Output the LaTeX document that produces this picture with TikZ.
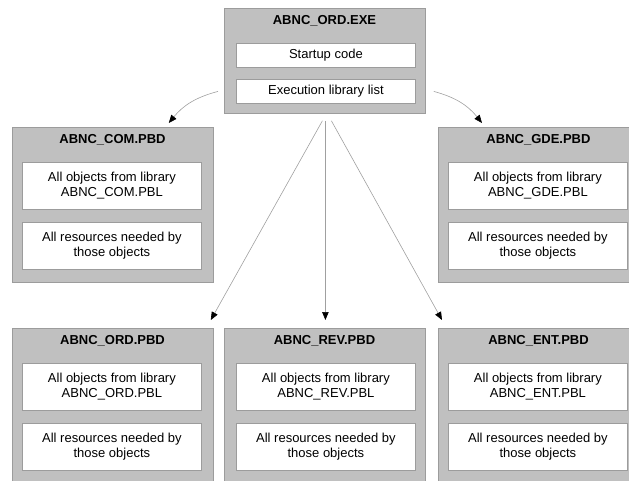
\documentclass[tikz,border=0pt]{standalone}
\usepackage{fontspec}
\setmainfont{Liberation Sans}
\usetikzlibrary{arrows.meta}
\definecolor{boxgray}{HTML}{C0C0C0}
\definecolor{edgegray}{HTML}{9C9C9C}
\definecolor{linegray}{HTML}{A0A0A0}
\begin{document}
\begin{tikzpicture}[x=1pt,y=1pt,
  outer/.style={draw=edgegray,fill=boxgray,line width=0.8pt,minimum width=201pt,inner sep=0pt,anchor=north west},
  inner/.style={draw=edgegray,fill=white,line width=0.8pt,minimum width=179pt,inner sep=0pt,align=center,font=\fontsize{13}{15}\selectfont,anchor=north west},
  title/.style={font=\fontsize{13}{15}\selectfont\bfseries,inner sep=0pt},
  arr/.style={draw=linegray,line width=0.6pt,-{Triangle[color=black,length=8pt,width=6.5pt]}}]
\useasboundingbox (0,0) rectangle (629,-480);
\clip (0,0) rectangle (629,-480);
% top box
\node[outer,minimum height=105pt] (top) at (224,-8) {};
\node[title] (toptitle) at (324.5,-21) {ABNC\_ORD.EXE};
\node[inner,minimum height=24pt] (start) at (236,-43) {Startup code};
\node[inner,minimum height=24pt] (exe) at (236,-79) {Execution library list};
% middle row
\node[outer,minimum height=155pt] (com) at (12,-127) {};
\node[title] (comtitle) at (112.5,-140) {ABNC\_COM.PBD};
\node[inner,minimum height=47pt] (com1) at (22,-162) {All objects from library\\ABNC\_COM.PBL};
\node[inner,minimum height=47pt] (com2) at (22,-222) {All resources needed by\\those objects};
\node[outer,minimum height=155pt] (gde) at (438,-127) {};
\node[title] (gdetitle) at (538.5,-140) {ABNC\_GDE.PBD};
\node[inner,minimum height=47pt] (gde1) at (448,-162) {All objects from library\\ABNC\_GDE.PBL};
\node[inner,minimum height=47pt] (gde2) at (448,-222) {All resources needed by\\those objects};
% bottom row
\node[outer,minimum height=155pt] (ord) at (12,-328) {};
\node[title] (ordtitle) at (112.5,-341) {ABNC\_ORD.PBD};
\node[inner,minimum height=47pt] (ord1) at (22,-363) {All objects from library\\ABNC\_ORD.PBL};
\node[inner,minimum height=47pt] (ord2) at (22,-423) {All resources needed by\\those objects};
\node[outer,minimum height=155pt] (rev) at (224,-328) {};
\node[title] (revtitle) at (324.5,-341) {ABNC\_REV.PBD};
\node[inner,minimum height=47pt] (rev1) at (236,-363) {All objects from library\\ABNC\_REV.PBL};
\node[inner,minimum height=47pt] (rev2) at (236,-423) {All resources needed by\\those objects};
\node[outer,minimum height=155pt] (ent) at (438,-328) {};
\node[title] (enttitle) at (538.5,-341) {ABNC\_ENT.PBD};
\node[inner,minimum height=47pt] (ent1) at (448,-363) {All objects from library\\ABNC\_ENT.PBL};
\node[inner,minimum height=47pt] (ent2) at (448,-423) {All resources needed by\\those objects};
% arrows
\draw[arr] ([xshift=-18pt]exe.west) to[bend right=18] ([shift={(-45pt,4pt)}]com.north east);
\draw[arr] ([xshift=18pt]exe.east) to[bend left=18] ([shift={(44pt,4pt)}]gde.north west);
\draw[arr] ([shift={(-2.5pt,-7pt)}]top.south) -- ([shift={(-3pt,8pt)}]ord.north east);
\draw[arr] ([shift={(0.5pt,-7pt)}]top.south) -- ([shift={(0.5pt,8pt)}]rev.north);
\draw[arr] ([shift={(6.5pt,-7pt)}]top.south) -- ([shift={(4pt,8pt)}]ent.north west);
\end{tikzpicture}
\end{document}
